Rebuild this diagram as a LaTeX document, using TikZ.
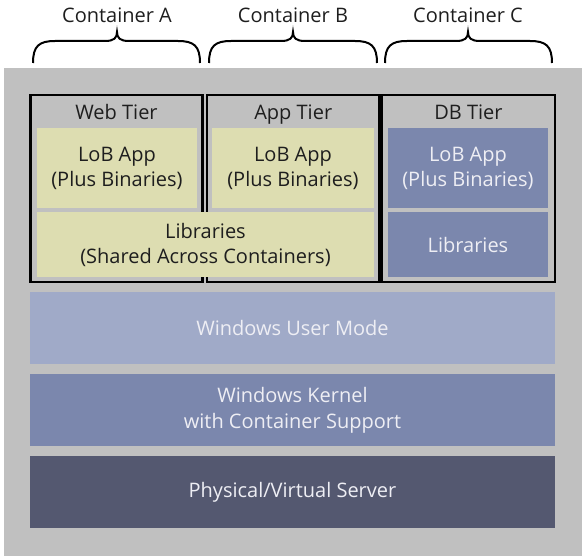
\documentclass[tikz,border=0pt]{standalone}
\usepackage{fontspec}
\setmainfont{Open Sans}
\usetikzlibrary{positioning}

\definecolor{bggray}{HTML}{C0C0C0}
\definecolor{lobyellow}{HTML}{DDDDB1}
\definecolor{dbblue}{HTML}{7B87AD}
\definecolor{userblue}{HTML}{A0AAC8}
\definecolor{serverblue}{HTML}{545870}
\definecolor{darktext}{HTML}{1E1E1E}
\definecolor{lighttext}{HTML}{EEEEF4}

\tikzset{
  tierbox/.style={draw=black, line width=2.2pt, inner sep=0pt},
  yellowbox/.style={fill=lobyellow, text=darktext, inner sep=0pt},
  bluebox/.style={fill=dbblue, text=lighttext, inner sep=0pt},
  layerbox/.style={minimum width=525pt, minimum height=72pt, text=lighttext, inner sep=0pt},
}

\begin{document}
\begin{tikzpicture}[x=1pt,y=-1pt,
  every node/.style={font=\fontsize{20}{25}\selectfont, align=center, text=darktext}]
  \useasboundingbox (0,0) rectangle (582,556);
  \fill[bggray] (4,68) rectangle (582,556);

  % braces and container names
  \foreach \a/\m/\b/\n in {33/117/200/A, 209/293/377/B, 385/468/552/C} {
    \draw[line width=2pt] (\a,63) .. controls (\a,46) and (\a+6,41) .. (\a+22,41)
      -- (\m-12,41) .. controls (\m-3,41) and (\m,38) .. (\m,32)
      .. controls (\m,38) and (\m+3,41) .. (\m+12,41)
      -- (\b-22,41) .. controls (\b-6,41) and (\b,46) .. (\b,63);
    \node[anchor=base] (label\n) at (\m,23) {Container \n};
  }

  % containers
  \node[tierbox, minimum width=172pt, minimum height=187pt] (contA) at (116.5,188.5) {};
  \node[tierbox, minimum width=172.5pt, minimum height=187pt] (contB) at (293.25,188.5) {};
  \node[tierbox, minimum width=173pt, minimum height=187pt] (contC) at (468.5,188.5) {};
  \node[anchor=base] (webtier) at (116.5,120) {Web Tier};
  \node[anchor=base] (apptier) at (293.25,120) {App Tier};
  \node[anchor=base] (dbtier) at (468.5,120) {DB Tier};

  \node[yellowbox, minimum width=160pt, minimum height=80pt] (weblob) at (117,168) {LoB App\\(Plus Binaries)};
  \node[yellowbox, minimum width=162pt, minimum height=80pt] (applob) at (293,168) {LoB App\\(Plus Binaries)};
  \node[yellowbox, minimum width=337pt, minimum height=65pt] (sharedlib) at (205.5,245) {Libraries\\(Shared Across Containers)};
  \node[bluebox, minimum width=160pt, minimum height=80pt] (dblob) at (468,168) {LoB App\\(Plus Binaries)};
  \node[bluebox, minimum width=160pt, minimum height=65pt] (dblib) at (468,245) {Libraries};

  % host layers
  \node[layerbox, fill=userblue] (usermode) at (292.5,328) {Windows User Mode};
  \node[layerbox, fill=dbblue, font=\fontsize{20}{26}\selectfont] (kernel) at (292.5,410) {Windows Kernel\\with Container Support};
  \node[layerbox, fill=serverblue] (server) at (292.5,492) {Physical/Virtual Server};
\end{tikzpicture}
\end{document}
